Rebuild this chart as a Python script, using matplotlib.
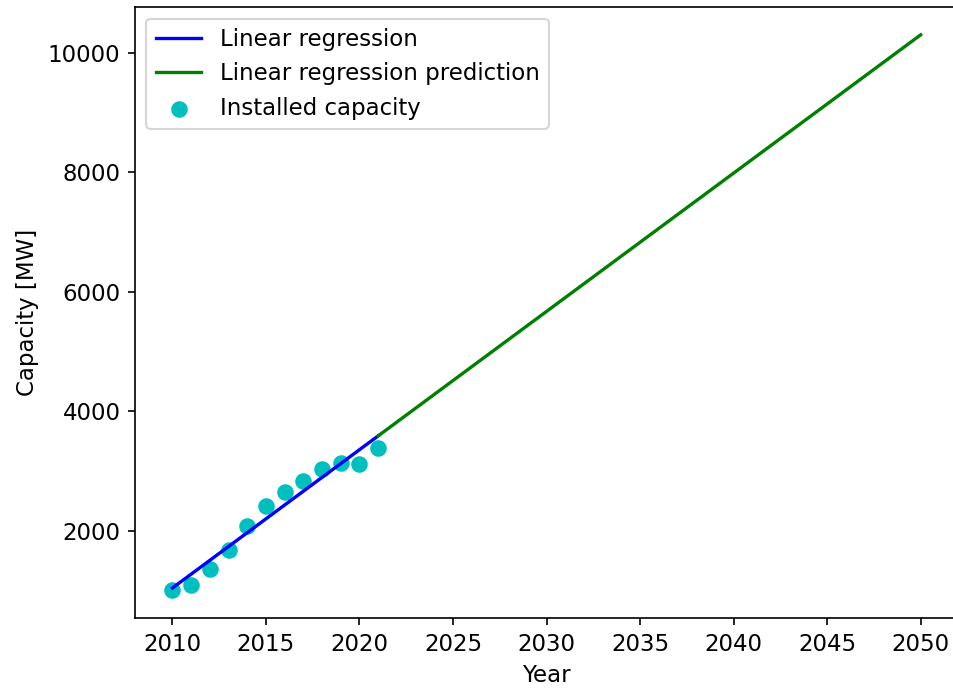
import numpy as np
import matplotlib
matplotlib.use("Agg")
import matplotlib.pyplot as plt

# installed capacity
years = np.arange(2010, 2022)
capacity = [1003, 1086, 1365, 1671, 2084, 2418, 2640, 2835, 3030, 3141, 3114, 3391]
future_years = np.arange(2021, 2051)

# fit a straight line through the installed capacity
slope, intercept = np.polyfit(years, capacity, 1)

plt.rcParams['font.size'] = 11

fig = plt.figure(figsize=(953 / 150, 688 / 150), dpi=150)
# the axes run a little past the right edge of the picture
ax = fig.add_axes([0.1417, 0.1017, 0.8636, 0.888])

ax.plot(years, slope * years + intercept, color='b', lw=1.6, label='Linear regression')
ax.plot(future_years, slope * future_years + intercept, color='g', lw=1.6, label='Linear regression prediction')
ax.scatter(years, capacity, color='c', s=48, label='Installed capacity')

ax.set_xlabel('Year')
ax.set_ylabel('Capacity [MW]')
ax.set_xticks(np.arange(2010, 2051, 5))
ax.legend(loc='upper left')

fig.savefig('out.png', dpi=150)
